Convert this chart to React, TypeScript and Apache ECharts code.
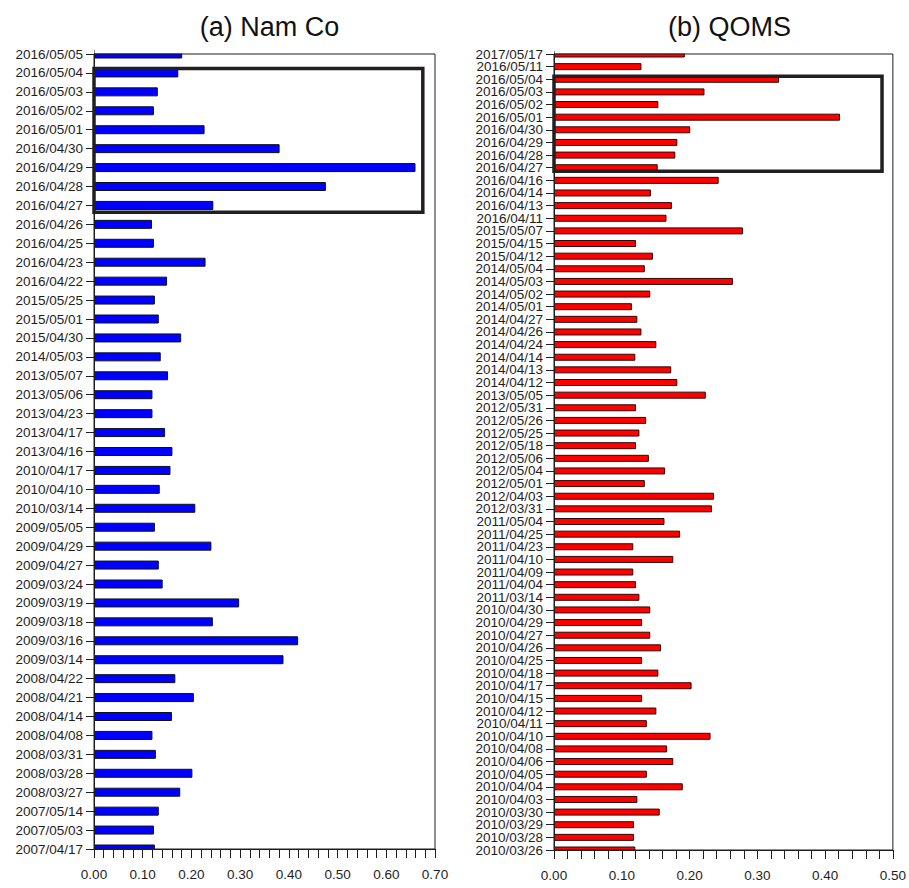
import React, { useEffect, useRef } from "react";
import * as echarts from "echarts";

const namCoDates = [
  "2016/05/05", "2016/05/04", "2016/05/03", "2016/05/02", "2016/05/01", "2016/04/30",
  "2016/04/29", "2016/04/28", "2016/04/27", "2016/04/26", "2016/04/25", "2016/04/23",
  "2016/04/22", "2015/05/25", "2015/05/01", "2015/04/30", "2014/05/03", "2013/05/07",
  "2013/05/06", "2013/04/23", "2013/04/17", "2013/04/16", "2010/04/17", "2010/04/10",
  "2010/03/14", "2009/05/05", "2009/04/29", "2009/04/27", "2009/03/24", "2009/03/19",
  "2009/03/18", "2009/03/16", "2009/03/14", "2008/04/22", "2008/04/21", "2008/04/14",
  "2008/04/08", "2008/03/31", "2008/03/28", "2008/03/27", "2007/05/14", "2007/05/03",
  "2007/04/17",
];
const namCoValues = [
  0.181, 0.173, 0.131, 0.123, 0.227, 0.381,
  0.660, 0.476, 0.245, 0.119, 0.123, 0.229,
  0.150, 0.125, 0.133, 0.179, 0.137, 0.152,
  0.120, 0.120, 0.146, 0.161, 0.157, 0.135,
  0.208, 0.125, 0.241, 0.133, 0.141, 0.298,
  0.244, 0.419, 0.389, 0.167, 0.205, 0.160,
  0.120, 0.127, 0.202, 0.177, 0.133, 0.123,
  0.125,
];

const qomsDates = [
  "2017/05/17", "2016/05/11", "2016/05/04", "2016/05/03", "2016/05/02", "2016/05/01",
  "2016/04/30", "2016/04/29", "2016/04/28", "2016/04/27", "2016/04/16", "2016/04/14",
  "2016/04/13", "2016/04/11", "2015/05/07", "2015/04/15", "2015/04/12", "2014/05/04",
  "2014/05/03", "2014/05/02", "2014/05/01", "2014/04/27", "2014/04/26", "2014/04/24",
  "2014/04/14", "2014/04/13", "2014/04/12", "2013/05/05", "2012/05/31", "2012/05/26",
  "2012/05/25", "2012/05/18", "2012/05/06", "2012/05/04", "2012/05/01", "2012/04/03",
  "2012/03/31", "2011/05/04", "2011/04/25", "2011/04/23", "2011/04/10", "2011/04/09",
  "2011/04/04", "2011/03/14", "2010/04/30", "2010/04/29", "2010/04/27", "2010/04/26",
  "2010/04/25", "2010/04/18", "2010/04/17", "2010/04/15", "2010/04/12", "2010/04/11",
  "2010/04/10", "2010/04/08", "2010/04/06", "2010/04/05", "2010/04/04", "2010/04/03",
  "2010/03/30", "2010/03/29", "2010/03/28", "2010/03/26",
];
const qomsValues = [
  0.193, 0.129, 0.332, 0.222, 0.154, 0.422,
  0.201, 0.182, 0.179, 0.153, 0.243, 0.143,
  0.174, 0.166, 0.279, 0.121, 0.146, 0.134,
  0.264, 0.142, 0.115, 0.123, 0.129, 0.151,
  0.120, 0.173, 0.182, 0.224, 0.121, 0.136,
  0.126, 0.121, 0.140, 0.164, 0.134, 0.236,
  0.233, 0.163, 0.186, 0.117, 0.176, 0.117,
  0.121, 0.126, 0.142, 0.130, 0.142, 0.158,
  0.130, 0.154, 0.203, 0.130, 0.151, 0.137,
  0.231, 0.167, 0.176, 0.137, 0.190, 0.123,
  0.156, 0.118, 0.118, 0.120,
];

const panelTitles = ["(a) Nam Co", "(b) QOMS"];
const xMaxes = [0.7, 0.5];
// highlighted periods: [first category, last category, right end value]
const namCoBox = ["2016/05/04", "2016/04/27", 0.675];
const qomsBox = ["2016/05/04", "2016/04/27", 0.484];

const FONT = "'Liberation Sans', Arial, Helvetica, sans-serif";
const INK = "#1e1e1e";
const GRIDS = [
  { left: 94, top: 54, width: 341, height: 795 },
  { left: 554, top: 54, width: 341, height: 796 },
];

function xAxisFor(gridIndex: number, max: number) {
  return {
    type: "value",
    gridIndex,
    z: 10,
    min: 0,
    max,
    interval: 0.1,
    axisLine: { show: true, lineStyle: { color: INK, width: 1 } },
    axisTick: { show: true, length: 9, lineStyle: { color: INK } },
    minorTick: { show: true, splitNumber: 5, length: 9, lineStyle: { color: INK } },
    splitLine: { show: false },
    axisLabel: {
      formatter: (v: number) => v.toFixed(2),
      fontFamily: FONT,
      fontSize: 13.5,
      color: INK,
      margin: 18,
    },
  };
}

function yAxisFor(gridIndex: number, data: string[]) {
  return {
    type: "category",
    gridIndex,
    z: 10,
    data,
    inverse: true,
    boundaryGap: false,
    axisLine: { show: true, lineStyle: { color: INK, width: 1 } },
    axisTick: { show: true, length: 8, interval: 0, lineStyle: { color: INK } },
    splitLine: { show: false },
    axisLabel: {
      interval: 0,
      fontFamily: FONT,
      fontSize: 13.5,
      color: INK,
      margin: 11,
    },
  };
}

export default function App() {
  const ref = useRef<HTMLDivElement>(null);
  useEffect(() => {
    document.body.style.margin = "0";
    if (!ref.current) return;
    const chart = echarts.init(ref.current, null, { renderer: "svg" });
    const titleStyle = { fontFamily: FONT, fontSize: 27, fontWeight: "normal", color: "#111" };
    const option: any = {
      animation: false,
      backgroundColor: "#ffffff",
      title: [
        { text: panelTitles[0], left: GRIDS[0].left + GRIDS[0].width / 2, top: 8, textAlign: "center", textStyle: titleStyle },
        { text: panelTitles[1], left: GRIDS[1].left + GRIDS[1].width / 2, top: 8, textAlign: "center", textStyle: titleStyle },
      ],
      grid: GRIDS.map((g) => ({
        ...g,
        z: 10,
        show: true,
        borderColor: INK,
        borderWidth: 1,
        backgroundColor: "transparent",
      })),
      xAxis: [xAxisFor(0, xMaxes[0]), xAxisFor(1, xMaxes[1])],
      yAxis: [yAxisFor(0, namCoDates), yAxisFor(1, qomsDates)],
      series: [
        {
          type: "bar",
          xAxisIndex: 0,
          yAxisIndex: 0,
          data: namCoValues,
          barWidth: 9,
          z: 2,
          itemStyle: { color: "#0000ff", borderColor: "#111", borderWidth: 1 },
        },
        {
          type: "bar",
          xAxisIndex: 1,
          yAxisIndex: 1,
          data: qomsValues,
          barWidth: 7,
          z: 2,
          itemStyle: { color: "#ff0000", borderColor: "#2a0a0a", borderWidth: 1 },
        },
      ],
    };
    chart.setOption(option);

    const makeBox = (gridIndex: number, cats: string[], box: any[], topFrac: number, botFrac: number) => {
      const i0 = cats.indexOf(box[0]);
      const i1 = cats.indexOf(box[1]);
      const p0 = chart.convertToPixel({ gridIndex } as any, [0, cats[i0]]) as number[];
      const p0b = chart.convertToPixel({ gridIndex } as any, [0, cats[i0 + 1]]) as number[];
      const p1 = chart.convertToPixel({ gridIndex } as any, [box[2], cats[i1]]) as number[];
      const step = p0b[1] - p0[1];
      const y0 = p0[1] - topFrac * step;
      const y1 = p1[1] + botFrac * step;
      return {
        type: "rect",
        shape: { x: p0[0], y: y0, width: p1[0] - p0[0], height: y1 - y0 },
        style: { fill: "none", stroke: "#231f20", lineWidth: 3.5 },
        z: 100,
      };
    };
    // white masks that trim the half bars overflowing the frame at the first and last category
    const masks: any[] = [];
    GRIDS.forEach((g) => {
      masks.push({
        type: "rect",
        z: 5,
        shape: { x: g.left + 0.5, y: g.top - 12, width: g.width - 1, height: 11.5 },
        style: { fill: "#ffffff" },
      });
      masks.push({
        type: "rect",
        z: 5,
        shape: { x: g.left + 0.5, y: g.top + g.height + 0.5, width: g.width - 1, height: 11.5 },
        style: { fill: "#ffffff" },
      });
    });
    chart.setOption({
      graphic: [
        ...masks,
        makeBox(0, namCoDates, namCoBox, 0.24, 0.36),
        makeBox(1, qomsDates, qomsBox, 0.24, 0.28),
      ],
    });
    return () => chart.dispose();
  }, []);
  return <div ref={ref} style={{ width: 909, height: 888 }} />;
}
